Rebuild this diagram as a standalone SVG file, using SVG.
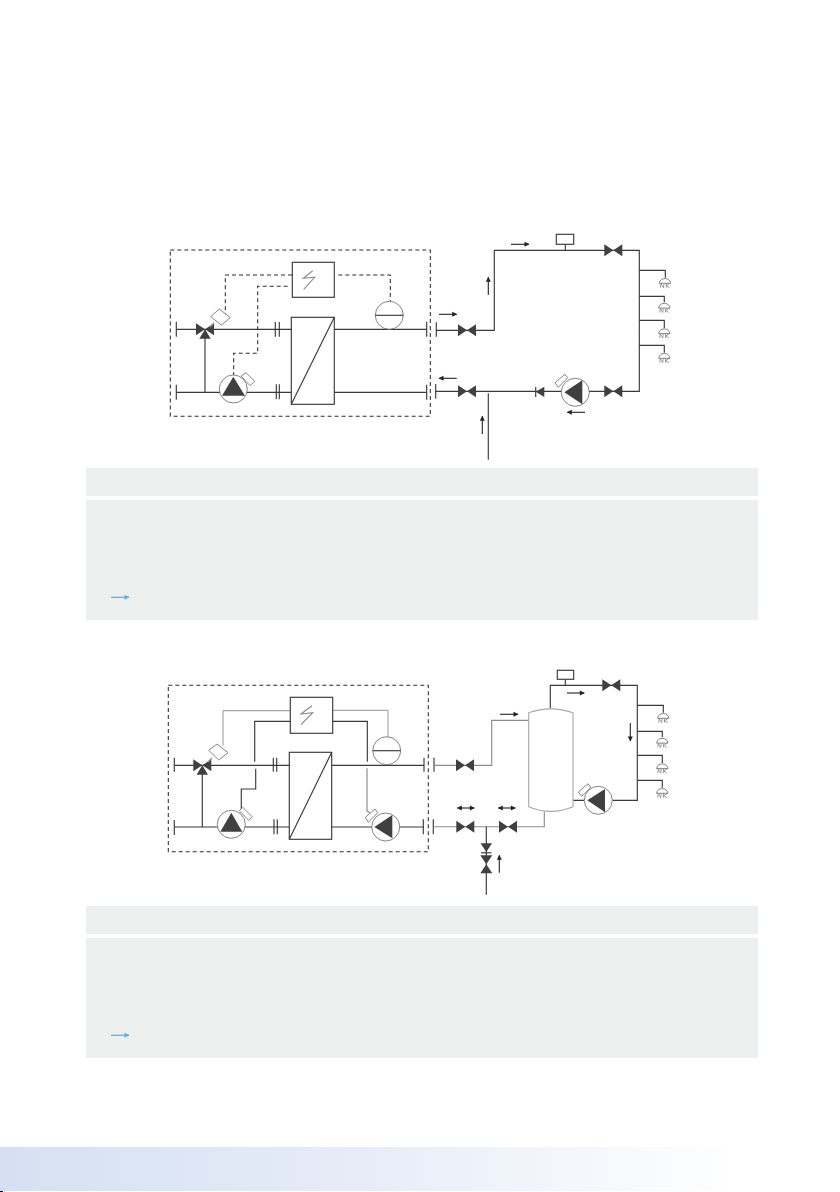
<svg xmlns="http://www.w3.org/2000/svg" width="840" height="1192" viewBox="0 0 840 1192">
<style>
.p{fill:none;stroke:#3a3a3a;stroke-width:1.15}
.g{fill:none;stroke:#8c8c8c;stroke-width:1.15}
.lg{fill:none;stroke:#a8a8a8;stroke-width:1.2}
.d{fill:none;stroke:#2c2c2c;stroke-width:1.05;stroke-dasharray:4 3}
.b{fill:#fff;stroke:#3a3a3a;stroke-width:1.15}
.t{fill:#fff;stroke:#666;stroke-width:.8}
.f{fill:#404040;stroke:none}
.n{fill:none;stroke:#777;stroke-width:.7}
.a{fill:none;stroke:#222;stroke-width:1.1;marker-end:url(#ah)}
.aa{fill:none;stroke:#222;stroke-width:1.1;marker-end:url(#ah);marker-start:url(#as)}
.ab{fill:none;stroke:#55b4ee;stroke-width:1.3;marker-end:url(#ahb)}
.panel{fill:#eeefef}
</style>
<defs>
<linearGradient id="foot" x1="0" y1="0" x2="1" y2="0">
<stop offset="0" stop-color="#d5e0f2"/><stop offset=".5" stop-color="#e7edf8"/><stop offset="1" stop-color="#fff"/>
</linearGradient>
<marker id="ah" markerUnits="userSpaceOnUse" markerWidth="7" markerHeight="7" refX="5.5" refY="3.5" orient="auto"><path d="M1,1L6,3.5L1,6Z" fill="#222"/></marker>
<marker id="as" markerUnits="userSpaceOnUse" markerWidth="7" markerHeight="7" refX="1.5" refY="3.5" orient="auto"><path d="M6,1L1,3.5L6,6Z" fill="#222"/></marker>
<marker id="ahb" markerUnits="userSpaceOnUse" markerWidth="7" markerHeight="7" refX="5.5" refY="3.5" orient="auto"><path d="M1,1L6,3.5L1,6Z" fill="#55b4ee"/></marker>
<path id="valve" class="f" d="M-9,-6L0,0L-9,6ZM9,-6L0,0L9,6Z"/>
<path id="valve3" class="f" d="M-9,-6L0,0L-9,6ZM9,-6L0,0L9,6ZM0,0L5.7,9.4L-5.7,9.4Z"/>
<g id="head">
<path class="t" d="M-5.7,5.6A5.8,5.8 0 0 1 5.7,5.6Z"/>
<path class="n" d="M-4.6,10L-4,6L-1.6,10L-1,6M1.2,6V10M4.6,6L1.4,8L4.6,10"/>
</g>
</defs>

<rect id="page" width="840" height="1192" fill="#fff"/>
<rect class="panel" x="86" y="468" width="672" height="28"/>
<rect class="panel" x="86" y="500" width="672" height="120"/>
<rect class="panel" x="86" y="906" width="672" height="28"/>
<rect class="panel" x="86" y="938" width="672" height="120"/>
<rect id="footer" x="0" y="1147" width="745" height="44" fill="url(#foot)"/>
<rect x="0" y="1191" width="3" height="1" fill="#000050"/>

<g id="connectors">
<rect class="d" x="170.3" y="250" width="260" height="166.3"/>
<path class="d" d="M292,275H225.3V315M287.7,286.3H257.7V353.3H233.7V375M338.3,275H390.3V301.7"/>
<path class="p" d="M176.3,329.3H426.7M176.3,392.3H426.7M205,338V392.3"/>
<path class="p" d="M176.3,321.7V336.7M176.3,384.7V399.7M426.7,321.7V336.7M426.7,384.7V399.7"/>
<path class="p" d="M436.3,330.3H494.3V250.3H639.3V391.3H435.7M436.3,322.3V336.7M435.7,384V398.7"/>
<path class="p" d="M565.3,244.3V250.3M488.3,393.3V459.7"/>
<path class="p" d="M639.3,270.3H665.3V277.7M639.3,296.3H664.3V302.3M639.3,320.3H664.3V328M639.3,345.3H664.3V352.7"/>
<path class="a" d="M439,314.3H456.7"/><path class="a" d="M456.7,378.3H439"/>
<path class="a" d="M511,244.3H529"/><path class="a" d="M488.3,295V277.3"/>
<path class="a" d="M585,412.3H567.3"/><path class="a" d="M482.3,434V416.3"/>
<path class="ab" d="M111,597.3H129"/>
<rect class="d" x="168.3" y="685.3" width="260" height="166.4"/>
<path class="lg" d="M290.3,710.7H223V745.7M332.7,710.3H388V737.3"/>
<path class="p" d="M290.3,721.3H254.7V761.7M255.7,768.7V789H241.3V810M332.7,721.3H367.3V761.7"/>
<path class="g" d="M367,768.3V811L370,813"/>
<path class="p" d="M174.3,765.3H424M174.3,827H423.3M202.3,773.7V827"/>
<path class="p" d="M174.3,757.7V771.7M174.3,820V835M424,757.7V771.7M423.3,819.3V834.3"/>
<path class="p" d="M434,757.7V771.7M433.3,819.3V834.3"/>
<path class="g" d="M434.3,765.3H491.7V720.3H528.7M433.7,826.7H544.3V812"/>
<path class="p" d="M550.3,708.3V685.3H637.3V800.3H612.7M573,800.3H584.3M565.3,679.3V685.3M486.3,826.7V894.7"/>
<path class="p" d="M637.3,705.3H663.3V712.7M637.3,731.3H662.3V737.3M637.3,755.3H662.3V763M637.3,780.3H662.3V787.7"/>
<path class="a" d="M500,714.3H518"/><path class="a" d="M567,693H584.3"/><path class="a" d="M630.3,723V741"/>
<path class="aa" d="M457.3,808H474.3"/><path class="aa" d="M498.3,808H515.3"/>
<path class="a" d="M499.3,872.7V855.3"/>
<path class="ab" d="M111,1035.3H129"/>
</g>

<g id="control1"><rect class="b" x="292.3" y="262.3" width="42" height="35"/><path class="g" d="M312.7,270.7L303.3,278.3L314.7,277.3L303.7,289.3"/></g>
<g id="hx1"><rect class="b" x="291.3" y="317.3" width="43" height="87"/><path class="p" d="M291.3,404.3L334.3,317.3"/></g>
<g id="fm1"><circle class="t" cx="389.3" cy="315.3" r="14"/><path class="p" d="M375.3,315.3H403.3"/></g>
<g id="v3a"><use href="#valve3" x="205" y="329.3"/><path class="t" d="M219.3,309L230.3,317.7L221.3,325L210.7,316.7Z"/><path class="g" d="M210,327L214,323"/></g>
<g id="ticks1"><path class="p" d="M275.3,322V336.7M279.3,322V336.7M276.3,384.3V399.3M279.3,384.3V399.3"/></g>
<g id="pump1"><circle class="t" cx="233.3" cy="389" r="14"/><path class="f" d="M233.3,376.7L245,395.7H222Z"/><path class="t" d="M241,376L246,372.7L254.7,381.3L250,385.7Z"/></g>
<g id="valve1a"><use href="#valve" x="467" y="330.3"/></g>
<g id="valve1b"><use href="#valve" x="613.3" y="250.3"/></g>
<g id="valve1c"><use href="#valve" x="613.3" y="391.3"/></g>
<g id="valve1d"><use href="#valve" x="467" y="391.3"/></g>
<g id="sensor1"><rect class="b" x="556.3" y="234.3" width="17.4" height="10"/></g>
<g id="check1"><path class="p" d="M535.7,387V397"/><path class="f" d="M535.7,391.7L544.3,386.7V397Z"/></g>
<g id="pump2"><circle class="t" cx="575.3" cy="392.3" r="14"/><path class="f" d="M564.3,392.3L582.3,380.3V404.3Z"/><path class="t" d="M555,382.7L565,374.3L567.7,377.7L558.3,387.3Z"/></g>
<g id="heads1"><use href="#head" x="665" y="277.7"/><use href="#head" x="664.3" y="302.5"/><use href="#head" x="664.3" y="328"/><use href="#head" x="664.3" y="352.7"/></g>

<g id="control2"><rect class="b" x="290.3" y="697.3" width="42.4" height="36"/><path class="g" d="M312,705.7L301,714L312.7,712.7L301,724.7"/></g>
<g id="hx2"><rect class="b" x="289.3" y="752.3" width="42.4" height="87"/><path class="p" d="M289.3,839.3L331.7,752.3"/></g>
<g id="fm2"><circle class="t" cx="386.7" cy="750.7" r="14"/><path class="p" d="M372.7,750.7H400.7"/></g>
<g id="v3b"><use href="#valve3" x="202.3" y="765.3"/><path class="t" d="M217,744L228,752.7L218.7,760L208.7,750.3Z"/><path class="g" d="M208,762L212,758"/></g>
<g id="ticks2"><path class="p" d="M273.3,757.7V771.7M276.7,757.7V771.7M274,819.3V834.3M277.3,819.3V834.3"/></g>
<g id="pump3"><circle class="t" cx="231.3" cy="824.3" r="14"/><path class="f" d="M231.3,812.7L242.3,831.7H220.3Z"/><path class="t" d="M239.3,810.7L242.7,807.3L252.3,816.7L248.7,820.3Z"/></g>
<g id="pump4"><circle class="t" cx="385.7" cy="827" r="14"/><path class="f" d="M374.3,827L392.3,815V838.3Z"/><path class="t" d="M365.3,817.3L375,809L377.7,812.7L368.3,822.3Z"/></g>
<g id="tank"><path d="M528.7,712.7Q550.8,705 573,712.7V806.7Q550.8,816 528.7,806.7Z" fill="#fff" stroke="#a8a8a8" stroke-width="1.1"/></g>
<g id="pump5"><circle class="t" cx="598.3" cy="800.3" r="14"/><path class="f" d="M587.3,800.3L605,789V812.3Z"/><path class="t" d="M578.3,792L588,783.7L591,787.3L581.7,796.3Z"/></g>
<g id="valve2a"><use href="#valve" x="465" y="765.3"/></g>
<g id="valve2b"><use href="#valve" x="611.3" y="685.3"/></g>
<g id="valve2c"><use href="#valve" x="465.3" y="826.7"/></g>
<g id="valve2d"><use href="#valve" x="508" y="826.7"/></g>
<g id="valve2e"><use href="#valve" transform="translate(486.3,864.3) rotate(90)"/></g>
<g id="check2"><path class="f" d="M480.6,843.3H492L486.3,852Z"/><path class="p" d="M481,852.8H491.6"/></g>
<g id="sensor2"><rect class="b" x="557.3" y="670.3" width="16.4" height="9"/></g>
<g id="heads2"><use href="#head" x="663.3" y="712.7"/><use href="#head" x="662.3" y="737.5"/><use href="#head" x="662.3" y="763"/><use href="#head" x="662.3" y="787.7"/></g>
</svg>
